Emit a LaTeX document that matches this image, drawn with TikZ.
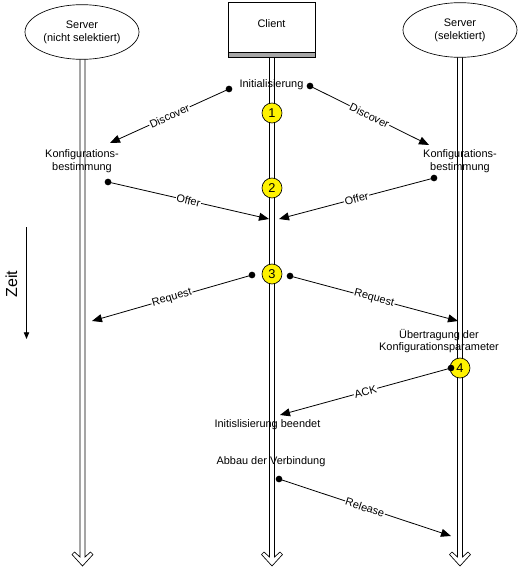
\documentclass[tikz,border=0pt]{standalone}
\usepackage{fontspec}
\setmainfont{Liberation Sans}
\usetikzlibrary{arrows.meta,shapes.geometric}
\begin{document}
\begin{tikzpicture}[x=0.75pt,y=-0.75pt,
  txt/.style={font=\fontsize{8.2}{9.6}\selectfont, inner sep=0pt, align=center},
  msg/.style={draw=black, line width=0.6pt, -{Triangle[length=7.5pt,width=6pt]}},
  lbl/.style={font=\fontsize{8.2}{9.6}\selectfont, fill=white, inner sep=0.6pt, sloped, midway},
  dot/.style={circle, fill=black, inner sep=0pt, minimum size=5pt},
  num/.style={circle, draw=black, fill=yellow, line width=0.5pt, minimum size=15pt, inner sep=0pt, font=\fontsize{9.6}{10}\selectfont},
  life/.style={draw=black, fill=white, line width=0.5pt},
  srv/.style={ellipse, draw=black, line width=0.5pt, fill=white, minimum width=85.5pt, minimum height=41pt, inner sep=0pt, align=center, font=\fontsize{8.2}{9.6}\selectfont}]
\useasboundingbox (0,0) rectangle (518,568);
% lifelines
\foreach \x/\t in {82.5/58, 272/57, 460/57}{
  \draw[life] (\x-2.5,\t) -- (\x-2.5,557) -- (\x-8,552) -- (\x-10.5,554.5) -- (\x,566) -- (\x+10.5,554.5) -- (\x+8,552) -- (\x+2.5,557) -- (\x+2.5,\t);
}
% heads
\node[srv] (sl) at (82,32) {Server\\(nicht selektiert)};
\node[srv] (sr) at (460,30) {Server\\(selektiert)};
\draw[line width=0.5pt, fill=white] (228,2) rectangle (315,57);
\fill[black!35] (228,52) rectangle (315,57);
\draw[line width=0.5pt] (228,2) rectangle (315,57);
\draw[line width=0.5pt] (228,52) -- (315,52);
\node[txt] (cl) at (271.5,24) {Client};
% texts
\node[txt] (init) at (271.5,85) {Initialisierung};
\node[txt] (kl) at (82,161) {Konfigurations-\\bestimmung};
\node[txt] (kr) at (460,161) {Konfigurations-\\bestimmung};
\node[txt] (ue) at (439,341) {Übertragung der\\Konfigurationsparameter};
\node[txt] (ib) at (267.5,425) {Initislisierung beendet};
\node[txt] (ab) at (271,462) {Abbau der Verbindung};
% numbers
\node[num] (n1) at (272,113) {1};
\node[num] (n2) at (272,188) {2};
\node[num] (n3) at (272,274) {3};
\node[num] (n4) at (460,368) {4};
% dots
\node[dot] (d1) at (229,89) {};
\node[dot] (d2) at (310,86) {};
\node[dot] (d3) at (108,182) {};
\node[dot] (d4) at (434,178) {};
\node[dot] (d5) at (252,275) {};
\node[dot] (d6) at (290,276) {};
\node[dot] (d7) at (451,368) {};
\node[dot] (d8) at (279,479) {};
% tips
\coordinate (t1) at (110,143);
\coordinate (t2) at (429,145);
\coordinate (t3) at (269,219);
\coordinate (t4) at (279,219);
\coordinate (t5) at (92,321);
\coordinate (t6) at (458,321);
\coordinate (t7) at (280,415);
\coordinate (t8) at (451,536);
\draw[msg] (d1.center) -- (t1) node[lbl] {Discover};
\draw[msg] (d2.center) -- (t2) node[lbl] {Discover};
\draw[msg] (d3.center) -- (t3) node[lbl] {Offer};
\draw[msg] (d4.center) -- (t4) node[lbl] {Offer};
\draw[msg] (d5.center) -- (t5) node[lbl] {Request};
\draw[msg] (d6.center) -- (t6) node[lbl] {Request};
\draw[msg] (d7.center) -- (t7) node[lbl] {ACK};
\draw[msg] (d8.center) -- (t8) node[lbl] {Release};
% time axis
\coordinate (z1) at (26.5,227);
\coordinate (z2) at (26.5,339);
\draw[line width=0.6pt, -{Triangle[length=5pt,width=4pt]}] (z1) -- (z2);
\node[rotate=90, inner sep=0pt, font=\fontsize{12}{14}\selectfont] (zeit) at (11.5,284) {Zeit};
\end{tikzpicture}
\end{document}
